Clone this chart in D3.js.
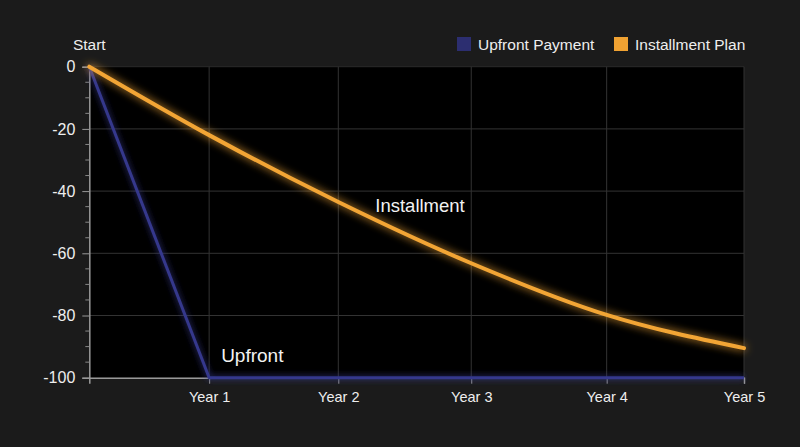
<!DOCTYPE html>
<html>
<head>
<meta charset="utf-8">
<script src="https://d3js.org/d3.v7.min.js"></script>
<style>
  body { margin: 0; background: #1b1b1b; }
  svg { display: block; font-family: "Liberation Sans", Arial, sans-serif; }
</style>
</head>
<body>
<div class="vis"></div>
<script>
  // data
  const years = [0, 1, 2, 3, 4, 5];
  const yearLabels = ["Start", "Year 1", "Year 2", "Year 3", "Year 4", "Year 5"];
  const upfront = [0, -100, -100, -100, -100, -100];
  const installment = [0, -22, -43.5, -63.2, -79.8, -90.5];
  const yTicks = [0, -20, -40, -60, -80, -100];
  const seriesNames = ["Upfront Payment", "Installment Plan"];
  const seriesColors = ["#2c2e70", "#f0a232"];

  const width = 800, height = 447;
  const margin = {top: 66.7, right: 56, bottom: 69.3, left: 89.3};

  const svg = d3.select(".vis").append("svg")
    .attr("width", width)
    .attr("height", height)
    .attr("viewBox", [0, 0, width, height]);

  svg.append("rect").attr("width", width).attr("height", height).attr("fill", "#1b1b1b");

  // glow filters
  const defs = svg.append("defs");
  function glow(id, std, k) {
    const f = defs.append("filter").attr("id", id)
      .attr("x", "-20%").attr("y", "-20%").attr("width", "140%").attr("height", "140%");
    f.append("feGaussianBlur").attr("in", "SourceGraphic").attr("stdDeviation", std).attr("result", "blur");
    const m = f.append("feMerge");
    for (let i = 0; i < k; i++) m.append("feMergeNode").attr("in", "blur");
    m.append("feMergeNode").attr("in", "SourceGraphic");
  }
  glow("glowOrange", 4, 1);
  glow("glowBlue", 3, 1);

  const x = d3.scalePow().exponent(1.055)
    .domain([0, 5])
    .range([margin.left, width - margin.right]);
  const y = d3.scaleLinear()
    .domain([-100, 0])
    .range([height - margin.bottom, margin.top]);

  // plot background
  svg.append("rect")
    .attr("x", x(0)).attr("y", y(0))
    .attr("width", x(5) - x(0)).attr("height", y(-100) - y(0))
    .attr("fill", "#000");

  // grid
  svg.append("g")
    .selectAll("line")
    .data(yTicks.filter(d => d > -100))
    .join("line")
    .attr("x1", x(0)).attr("x2", x(5))
    .attr("y1", d => y(d)).attr("y2", d => y(d))
    .attr("stroke", d => d === 0 ? "#2a2a2a" : "#333")
    .attr("stroke-width", 1);
  svg.append("g")
    .selectAll("line")
    .data(years.slice(1))
    .join("line")
    .attr("x1", d => x(d)).attr("x2", d => x(d))
    .attr("y1", y(0)).attr("y2", y(-100))
    .attr("stroke", "#333")
    .attr("stroke-width", 1);

  // y axis
  const yAxis = svg.append("g")
    .attr("transform", `translate(${x(0)},0)`)
    .call(d3.axisLeft(y).tickValues(yTicks).tickSize(7).tickPadding(7)
      .tickFormat(d => String(d)));
  yAxis.selectAll(".tick line").attr("stroke", "#999");
  yAxis.select(".domain").attr("stroke", "#999").attr("stroke-width", 1.5);
  yAxis.selectAll("text").attr("fill", "#eee").attr("font-size", 16);
  // minor ticks
  svg.append("g")
    .selectAll("line")
    .data(d3.range(-95, 0, 5).filter(d => d % 20 !== 0))
    .join("line")
    .attr("x1", x(0) - 4).attr("x2", x(0))
    .attr("y1", d => y(d)).attr("y2", d => y(d))
    .attr("stroke", "#888");

  // x axis
  const xAxis = svg.append("g")
    .attr("transform", `translate(0,${y(-100)})`)
    .call(d3.axisBottom(x).tickValues(years.slice(1))
      .tickFormat(d => yearLabels[d]).tickSize(6).tickPadding(8));
  xAxis.selectAll(".tick line").attr("stroke", "#999");
  xAxis.select(".domain").attr("stroke", "#999").attr("stroke-width", 1.5);
  xAxis.selectAll("text").attr("fill", "#eee").attr("font-size", 14.5);

  // "Start" label above y axis
  svg.append("text")
    .attr("x", x(0))
    .attr("y", y(0) - 17)
    .attr("text-anchor", "middle")
    .attr("fill", "#eee")
    .attr("font-size", 15.5)
    .text(yearLabels[0]);

  // lines
  const upLine = d3.line().x((d, i) => x(years[i])).y(d => y(d));
  const instLine = d3.line().x((d, i) => x(years[i])).y(d => y(d)).curve(d3.curveMonotoneX);

  svg.append("path")
    .datum(upfront)
    .attr("d", upLine)
    .attr("fill", "none")
    .attr("stroke", "#35388c")
    .attr("stroke-width", 3)
    .attr("stroke-linejoin", "round")
    .attr("filter", "url(#glowBlue)");

  svg.append("path")
    .datum(installment)
    .attr("d", instLine)
    .attr("fill", "none")
    .attr("stroke", "#f2a535")
    .attr("stroke-width", 4)
    .attr("stroke-linecap", "round")
    .attr("filter", "url(#glowOrange)");

  // inline labels
  svg.append("text")
    .attr("x", x(2) + 37).attr("y", y(-46.6))
    .attr("fill", "#f2f2f2").attr("font-size", 18.5)
    .text("Installment");
  svg.append("text")
    .attr("x", x(1) + 12).attr("y", y(-95))
    .attr("fill", "#f2f2f2").attr("font-size", 19)
    .text("Upfront");

  // legend
  const legendX = [457, 614];
  const legend = svg.append("g")
    .selectAll("g")
    .data(seriesNames)
    .join("g")
    .attr("transform", (d, i) => `translate(${legendX[i]},37)`);
  legend.append("rect")
    .attr("width", 14).attr("height", 14)
    .attr("fill", (d, i) => seriesColors[i]);
  legend.append("text")
    .attr("x", 21).attr("y", 12.5)
    .attr("fill", "#eee").attr("font-size", 15.5)
    .text(d => d);
</script>
</body>
</html>
